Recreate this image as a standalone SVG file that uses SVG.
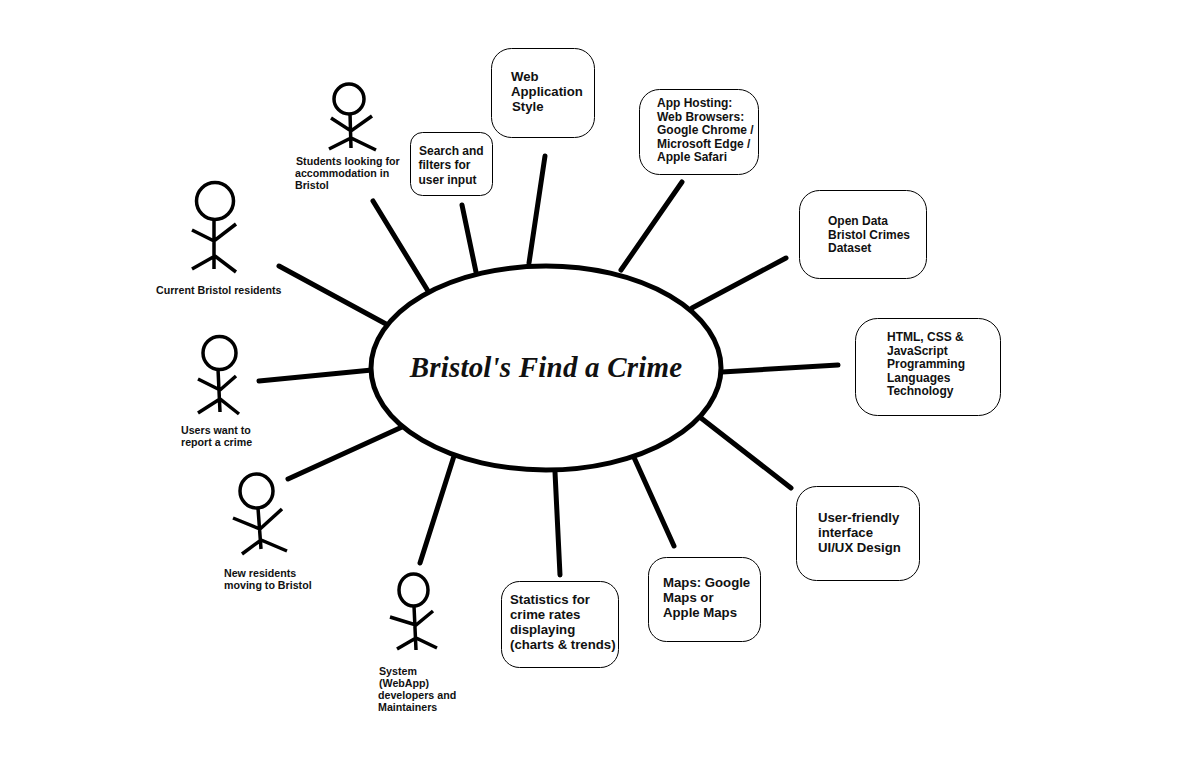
<svg xmlns="http://www.w3.org/2000/svg" width="1200" height="759" viewBox="0 0 1200 759">
<style>
text{font-family:"Liberation Sans",Arial,sans-serif;font-weight:bold;fill:#111}
.box{fill:#fff;stroke:#000;stroke-width:1}
.c{stroke:#000;stroke-width:5;stroke-linecap:round;fill:none}
.a{stroke:#000;stroke-width:3.5;stroke-linecap:butt;fill:none}
.h{fill:#fff;stroke:#000;stroke-width:3.5}
.s{font-size:10.67px}
.m{font-size:12px}
.l{font-size:13.2px}
</style>
<rect width="1200" height="759" fill="#fff"/>
<g id="connectors">
<path class="c" d="M279 266L386 324"/>
<path class="c" d="M373 201L428 291"/>
<path class="c" d="M462 205L476 272"/>
<path class="c" d="M545 156L529 263"/>
<path class="c" d="M682 182L621 270"/>
<path class="c" d="M786 258L692 308"/>
<path class="c" d="M838 365L722 372"/>
<path class="c" d="M791 488L701 418"/>
<path class="c" d="M674 546L632 453"/>
<path class="c" d="M560 575L555 472"/>
<path class="c" d="M420 563L454 456"/>
<path class="c" d="M288 479L402 427"/>
<path class="c" d="M259 381L372 370"/>
</g>
<g id="center">
<ellipse cx="546" cy="368" rx="175" ry="102" fill="#fff" stroke="#000" stroke-width="5"/>
<text x="546" y="377" text-anchor="middle" style="font-family:'Liberation Serif',serif;font-style:italic;font-size:29px;letter-spacing:.2px">Bristol's Find a Crime</text>
</g>
<g id="actor-students">
<circle class="h" cx="349" cy="99" r="15"/>
<path class="a" d="M350 113L351 148M331 118L351 131L372 116M329 149L351 138L376 150"/>
<text class="s" x="296" y="165">Students looking for</text><text class="s" x="295" y="177">accommodation in</text><text class="s" x="295" y="189">Bristol</text>
</g>
<g id="actor-current">
<circle class="h" cx="215" cy="201" r="18.500"/>
<path class="a" d="M214 219L214 269M192 230L214 241L236 224M192 269L215 256L236 272"/>
<text class="s" x="156" y="294">Current Bristol residents</text>
</g>
<g id="actor-report">
<circle class="h" cx="219.500" cy="353" r="16.500"/>
<path class="a" d="M218 369L220 412M198 379L220 390L236 376M198 413L220 399L239 414"/>
<text class="s" x="181" y="434">Users want to</text><text class="s" x="181" y="446">report a crime</text>
</g>
<g id="actor-new">
<ellipse class="h" cx="256.500" cy="491" rx="16.500" ry="17"/>
<path class="a" d="M258 508L261 549M233 518L260 529L282 509M242 554L261 540L287 551"/>
<text class="s" x="224" y="577">New residents</text><text class="s" x="224" y="589">moving to Bristol</text>
</g>
<g id="actor-dev">
<ellipse class="h" cx="413.500" cy="590" rx="14.500" ry="16"/>
<path class="a" d="M414 606L416 650M390 617L416 625L433 611M397 649L416 638L437 648"/>
<text class="s" x="379" y="675">System</text><text class="s" x="379" y="687">(WebApp)</text><text class="s" x="378" y="699">developers and</text><text class="s" x="378" y="711">Maintainers</text>
</g>
<g id="box-search">
<rect class="box" x="410.500" y="132.500" width="82" height="63" rx="12"/>
<text class="m" x="419" y="155">Search and</text><text class="m" x="418.500" y="169">filters for</text><text class="m" x="418.500" y="184">user input</text>
</g>
<g id="box-style">
<rect class="box" x="491.500" y="48.500" width="103" height="89" rx="20"/>
<text class="l" x="511" y="81">Web</text><text class="l" x="511" y="96">Application</text><text class="l" x="512" y="111">Style</text>
</g>
<g id="box-hosting">
<rect class="box" x="639.500" y="89.500" width="119" height="85" rx="20"/>
<text class="m" x="657" y="107">App Hosting:</text><text class="m" x="657" y="121">Web Browsers:</text><text class="m" x="657" y="134">Google Chrome /</text><text class="m" x="657" y="148">Microsoft Edge /</text><text class="m" x="657" y="161">Apple Safari</text>
</g>
<g id="box-data">
<rect class="box" x="799.500" y="190.500" width="127" height="88" rx="20"/>
<text class="m" x="828" y="225">Open Data</text><text class="m" x="828" y="239">Bristol Crimes</text><text class="m" x="828" y="252">Dataset</text>
</g>
<g id="box-tech">
<rect class="box" x="855.500" y="318.500" width="145" height="97" rx="22"/>
<text class="m" x="887" y="341">HTML, CSS &amp;</text><text class="m" x="887" y="355">JavaScript</text><text class="m" x="887" y="368">Programming</text><text class="m" x="887" y="382">Languages</text><text class="m" x="887" y="395">Technology</text>
</g>
<g id="box-ux">
<rect class="box" x="796.500" y="486.500" width="123" height="94" rx="20"/>
<text class="l" x="818" y="522">User-friendly</text><text class="l" x="818" y="537">interface</text><text class="l" x="818" y="552">UI/UX Design</text>
</g>
<g id="box-maps">
<rect class="box" x="648.500" y="557.500" width="112" height="84" rx="18"/>
<text class="l" x="663" y="587">Maps: Google</text><text class="l" x="663" y="602">Maps or</text><text class="l" x="663" y="617">Apple Maps</text>
</g>
<g id="box-stats">
<rect class="box" x="501.500" y="581.500" width="117" height="86" rx="18"/>
<text class="l" x="510" y="604">Statistics for</text><text class="l" x="510" y="619">crime rates</text><text class="l" x="510" y="634">displaying</text><text class="l" x="510" y="649">(charts &amp; trends)</text>
</g>
</svg>
